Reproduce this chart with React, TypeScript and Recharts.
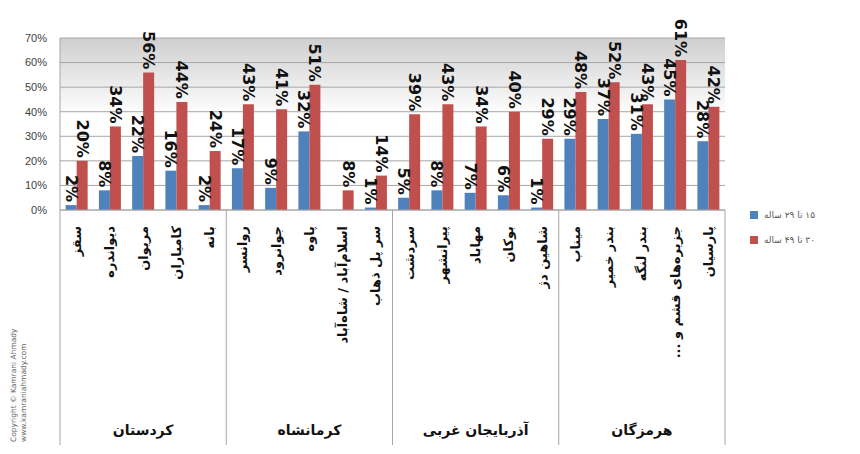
import { BarChart, Bar, XAxis, YAxis, CartesianGrid, LabelList, Legend } from 'recharts';

// province groups (5 cities each)
const provinces = ['کردستان', 'کرمانشاه', 'آذربایجان غربی', 'هرمزگان'];

const cities = [
    'سقز', 'دیواندره', 'مریوان', 'کامیاران', 'بانه',
    'روانسر', 'جوانرود', 'پاوه', 'اسلام‌آباد / شاه‌آباد', 'سر پل ذهاب',
    'سردشت', 'پیرانشهر', 'مهاباد', 'بوکان', 'شاهین دژ',
    'میناب', 'بندر خمیر', 'بندر لنگه', 'جزیره‌های قشم و ...', 'پارسیان',
];

const ageGroups = ['۱۵ تا ۲۹ ساله', '۳۰ تا ۴۹ ساله'];

const young = [2, 8, 22, 16, 2, 17, 9, 32, 0, 1, 5, 8, 7, 6, 1, 29, 37, 31, 45, 28];
const adult = [20, 34, 56, 44, 24, 43, 41, 51, 8, 14, 39, 43, 34, 40, 29, 48, 52, 43, 61, 42];

const yTicks = [0, 10, 20, 30, 40, 50, 60, 70];

const COLORS = ['#4F81BD', '#C0504D'];

const data = cities.map((city, i) => ({
    city,
    young: young[i],
    adult: adult[i],
}));

const CityTick = (props: any) => {
    const { x, y, payload } = props;
    const i = payload.index;
    const half = payload.offset || 0;
    return (
        <g>
            <text
                transform={`translate(${x},${y + 16}) rotate(-90)`}
                direction="rtl"
                textAnchor="start"
                dominantBaseline="central"
                fontSize={13}
                fontWeight="bold"
                fill="#111"
            >
                {payload.value}
            </text>
            {i % 5 === 0 && <line x1={x - half} x2={x - half} y1={y} y2={y + 235} stroke="#a6a6a6" />}
            {i === cities.length - 1 && <line x1={x + half} x2={x + half} y1={y} y2={y + 235} stroke="#a6a6a6" />}
            {i % 5 === 2 && (
                <text x={x} y={y + 220} textAnchor="middle" dominantBaseline="central" fontSize={14} fontWeight="bold" fill="#111">
                    {provinces[Math.floor(i / 5)]}
                </text>
            )}
        </g>
    );
};

const renderValue = (props: any) => {
    const { x, y, width, value } = props;
    return (
        <text
            transform={`translate(${x + width / 2},${y - 3}) rotate(90)`}
            textAnchor="end"
            dominantBaseline="central"
            fontSize={16}
            fontWeight="bold"
            fill="#111"
        >
            {value}%
        </text>
    );
};

const renderLegend = () => (
    <div style={{ fontFamily: 'DejaVu Sans', fontSize: 9, color: '#595959' }}>
        {ageGroups.map((g, i) => (
            <div key={g} style={{ display: 'flex', alignItems: 'center', height: 25 }}>
                <span style={{ width: 8, height: 8, background: COLORS[i], marginRight: 6 }} />
                <span style={{ direction: 'rtl' }}>{g}</span>
            </div>
        ))}
    </div>
);

export default function App() {
    return (
        <div style={{ position: 'absolute', left: 0, top: 0, width: 860, height: 454, background: '#fff' }}>
            <BarChart
                width={860}
                height={454}
                data={data}
                margin={{ top: 38, right: 135, left: 0, bottom: 0 }}
                barCategoryGap="17%"
                barGap={0}
                style={{ fontFamily: 'DejaVu Sans' }}
            >
                <defs>
                    <linearGradient id="plotBg" x1="0" y1="0" x2="0" y2="1">
                        <stop offset="0" stopColor="#cfcfcf" />
                        <stop offset="0.45" stopColor="#ffffff" />
                        <stop offset="1" stopColor="#ffffff" />
                    </linearGradient>
                </defs>
                <CartesianGrid vertical={false} stroke="#a6a6a6" fill="url(#plotBg)" fillOpacity={1} />
                <XAxis
                    dataKey="city"
                    height={244}
                    interval={0}
                    tickSize={0}
                    tickMargin={0}
                    tickLine={false}
                    axisLine={{ stroke: '#a6a6a6' }}
                    tick={<CityTick />}
                />
                <YAxis
                    width={60}
                    domain={[0, 70]}
                    ticks={yTicks}
                    tickFormatter={(v) => `${v}%`}
                    tickSize={0}
                    tickMargin={13}
                    tickLine={false}
                    axisLine={{ stroke: '#a6a6a6' }}
                    tick={{ fontSize: 11, fill: '#404040', fontFamily: 'Liberation Sans' }}
                />
                <YAxis yAxisId="edge" orientation="right" width={0} tick={false} axisLine={{ stroke: '#a6a6a6' }} />
                <Legend
                    layout="vertical"
                    align="center"
                    verticalAlign="middle"
                    wrapperStyle={{ left: 750, top: 202, width: 110, height: 50 }}
                    content={renderLegend}
                />
                <Bar dataKey="young" name={ageGroups[0]} fill={COLORS[0]} isAnimationActive={false}>
                    <LabelList dataKey="young" content={renderValue} />
                </Bar>
                <Bar dataKey="adult" name={ageGroups[1]} fill={COLORS[1]} isAnimationActive={false}>
                    <LabelList dataKey="adult" content={renderValue} />
                </Bar>
                <g fontSize={7.5} fill="#666">
                    <text transform="translate(16,442) rotate(-90)">Copyright © Kamrani Ahmady</text>
                    <text transform="translate(26,442) rotate(-90)">www.kamraniahmady.com</text>
                </g>
            </BarChart>
        </div>
    );
}
